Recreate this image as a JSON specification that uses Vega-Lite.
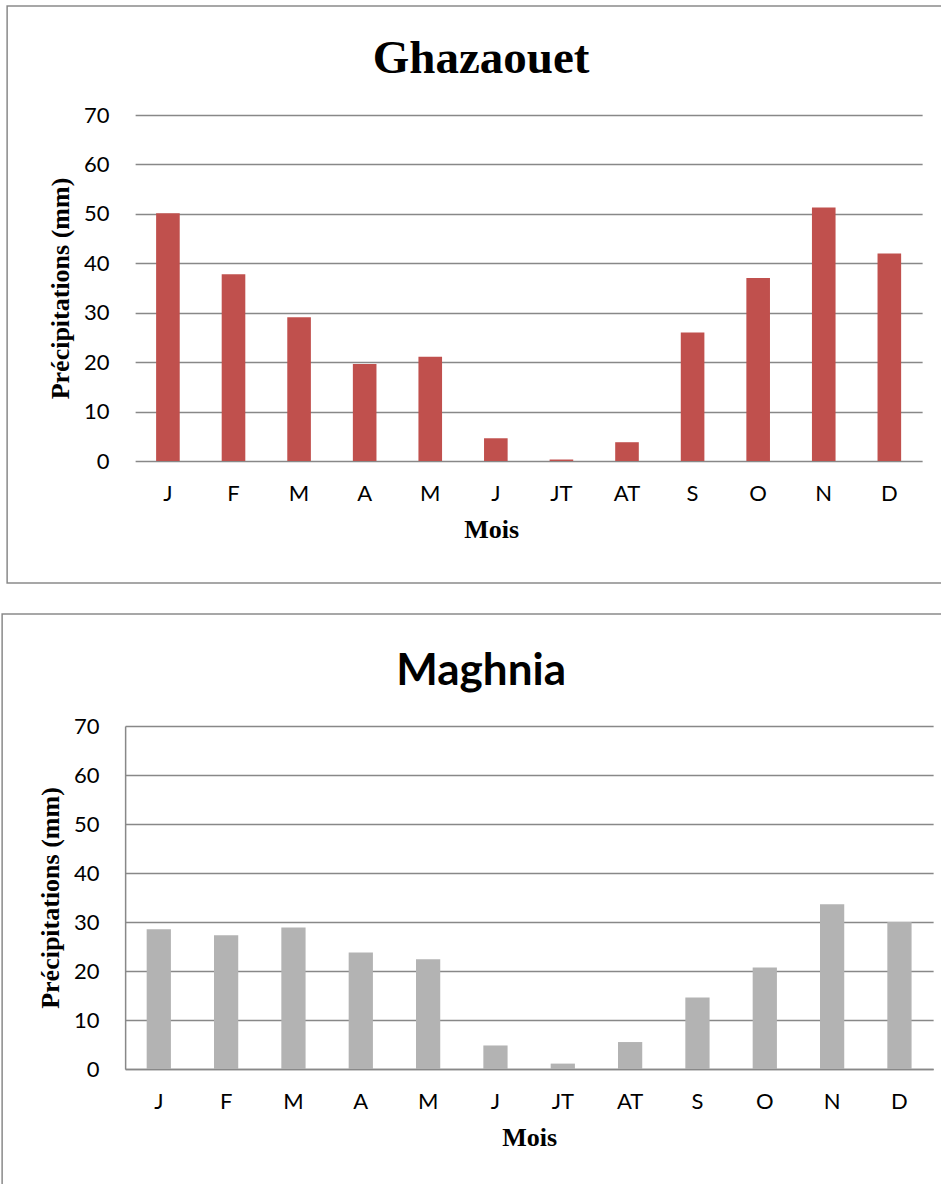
{
  "$schema": "https://vega.github.io/schema/vega-lite/v6.json",
  "background": "white",
  "padding": {"left": 1, "top": 5, "right": 0, "bottom": 0},
  "spacing": 29,
  "center": true,
  "config": {
    "view": {"stroke": "#8a8a8a", "strokeWidth": 1.5},
    "axis": {
      "labelFont": "Lato",
      "labelFontSize": 22,
      "labelColor": "#000000",
      "titleFont": "Liberation Serif",
      "titleFontWeight": "bold",
      "titleFontSize": 26,
      "titleColor": "#000000",
      "ticks": false,
      "gridColor": "#888888",
      "gridWidth": 1.5,
      "gridOpacity": 1,
      "domainColor": "#888888",
      "domainWidth": 1.5
    }
  },
  "data": {
    "values": [
      {"station": "Ghazaouet", "ordre": 1, "mois": "J", "precip": 50.1},
      {"station": "Ghazaouet", "ordre": 2, "mois": "F", "precip": 37.8},
      {"station": "Ghazaouet", "ordre": 3, "mois": "M", "precip": 29.1},
      {"station": "Ghazaouet", "ordre": 4, "mois": "A", "precip": 19.6},
      {"station": "Ghazaouet", "ordre": 5, "mois": "M", "precip": 21.1},
      {"station": "Ghazaouet", "ordre": 6, "mois": "J", "precip": 4.6},
      {"station": "Ghazaouet", "ordre": 7, "mois": "JT", "precip": 0.3},
      {"station": "Ghazaouet", "ordre": 8, "mois": "AT", "precip": 3.8},
      {"station": "Ghazaouet", "ordre": 9, "mois": "S", "precip": 26.0},
      {"station": "Ghazaouet", "ordre": 10, "mois": "O", "precip": 37.0},
      {"station": "Ghazaouet", "ordre": 11, "mois": "N", "precip": 51.3},
      {"station": "Ghazaouet", "ordre": 12, "mois": "D", "precip": 42.0},
      {"station": "Maghnia", "ordre": 1, "mois": "J", "precip": 28.5},
      {"station": "Maghnia", "ordre": 2, "mois": "F", "precip": 27.3},
      {"station": "Maghnia", "ordre": 3, "mois": "M", "precip": 28.9},
      {"station": "Maghnia", "ordre": 4, "mois": "A", "precip": 23.8},
      {"station": "Maghnia", "ordre": 5, "mois": "M", "precip": 22.4},
      {"station": "Maghnia", "ordre": 6, "mois": "J", "precip": 4.8},
      {"station": "Maghnia", "ordre": 7, "mois": "JT", "precip": 1.1},
      {"station": "Maghnia", "ordre": 8, "mois": "AT", "precip": 5.5},
      {"station": "Maghnia", "ordre": 9, "mois": "S", "precip": 14.6},
      {"station": "Maghnia", "ordre": 10, "mois": "O", "precip": 20.7},
      {"station": "Maghnia", "ordre": 11, "mois": "N", "precip": 33.6},
      {"station": "Maghnia", "ordre": 12, "mois": "D", "precip": 30.0}
    ]
  },
  "vconcat": [
    {
      "width": 948,
      "height": 577,
      "title": {"text": "Ghazaouet", "font": "Liberation Serif", "fontSize": 47, "fontWeight": "bold", "color": "#000000", "anchor": "middle", "frame": "group", "offset": -77},
      "transform": [{"filter": "datum.station === 'Ghazaouet'"}],
      "mark": {"type": "bar", "color": "#C0504D"},
      "encoding": {
        "x": {
          "field": "ordre", "type": "ordinal",
          "scale": {"range": [128, 915], "paddingInner": 0.64, "paddingOuter": 0.32},
          "axis": {"title": "Mois", "labelExpr": "['J','F','M','A','M','J','JT','AT','S','O','N','D'][datum.value - 1]", "labelAngle": 0, "offset": -122, "domain": false, "labelPadding": 22, "titlePadding": 12, "titleX": 484}
        },
        "y": {
          "field": "precip", "type": "quantitative",
          "scale": {"domain": [0, 70], "range": [455, 109], "nice": false},
          "axis": {"title": "Précipitations (mm)", "values": [0, 10, 20, 30, 40, 50, 60, 70], "offset": -128, "domain": false, "labelPadding": 26, "titlePadding": 10}
        }
      }
    },
    {
      "width": 958,
      "height": 580,
      "title": {"text": "Maghnia", "font": "Lato", "fontSize": 44, "fontWeight": "bold", "color": "#000000", "anchor": "middle", "frame": "group", "offset": -80},
      "transform": [{"filter": "datum.station === 'Maghnia'"}],
      "mark": {"type": "bar", "color": "#B3B3B3"},
      "encoding": {
        "x": {
          "field": "ordre", "type": "ordinal",
          "scale": {"range": [123, 931], "paddingInner": 0.64, "paddingOuter": 0.32},
          "axis": {"title": "Mois", "labelExpr": "['J','F','M','A','M','J','JT','AT','S','O','N','D'][datum.value - 1]", "labelAngle": 0, "offset": -125, "domain": true, "labelPadding": 22, "titlePadding": 12}
        },
        "y": {
          "field": "precip", "type": "quantitative",
          "scale": {"domain": [0, 70], "range": [455, 112], "nice": false},
          "axis": {"title": "Précipitations (mm)", "values": [0, 10, 20, 30, 40, 50, 60, 70], "offset": -123, "domain": true, "labelPadding": 26, "titlePadding": 10}
        }
      }
    }
  ]
}
